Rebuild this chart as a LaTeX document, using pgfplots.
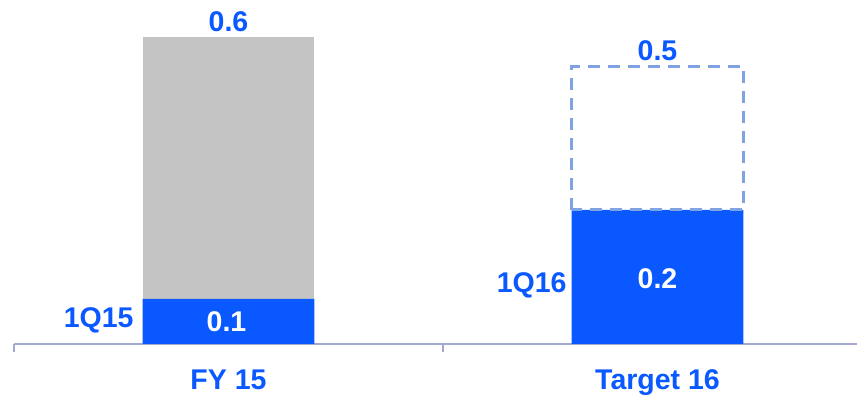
\documentclass[border=0pt]{standalone}
\usepackage{pgfplots}
\pgfplotsset{compat=1.18}
\usepackage{fontspec}
\setmainfont{Liberation Sans}
\definecolor{cblue}{HTML}{0A58FF}
\definecolor{cgray}{HTML}{C4C4C4}
\definecolor{cdash}{HTML}{7FA2E2}
\definecolor{caxis}{HTML}{A3A8CF}
\tikzset{lab/.style={font=\bfseries\fontsize{28.5}{34}\selectfont, text=cblue, inner sep=0pt}}
\begin{document}
\begin{tikzpicture}
\path[use as bounding box] (0,0) rectangle (857pt,396pt);
\begin{axis}[
  at={(14pt,52pt)}, anchor=south west,
  scale only axis, width=843pt, height=344pt,
  xmin=0, xmax=1.965, ymin=0, ymax=0.6723,
  axis y line=none, axis x line=bottom,
  x axis line style={-, draw=caxis, line width=1.5pt},
  xtick={0,1}, xticklabels={,},
  tick align=outside, major tick length=8pt,
  tick style={draw=caxis, line width=1.5pt},
  clip=false,
]
% FY 15 total (gray)
\addplot[ybar, bar width=0.4, bar shift=0pt, fill=cgray, draw=none] coordinates {(0.5,0.6)};
% 1Q actuals (blue)
\addplot[ybar, bar width=0.4, bar shift=0pt, fill=cblue, draw=none] coordinates {(0.5,0.088) (1.5,0.262)};
% Target 16 remaining (dashed outline)
\addplot[cdash, line width=3pt, dash pattern=on 12pt off 8pt, mark=none] coordinates {(1.3,0.262) (1.3,0.543) (1.7,0.543) (1.7,0.262) (1.3,0.262)};

\node[lab, anchor=base, yshift=5pt] at (axis cs:0.5,0.6) {0.6};
\node[lab, anchor=base, yshift=6pt] at (axis cs:1.5,0.543) {0.5};
\node[lab, anchor=base, text=white, xshift=-2pt] at (axis cs:0.5,0.0235) {0.1};
\node[lab, anchor=base, text=white] at (axis cs:1.5,0.1094) {0.2};
\node[lab, anchor=base east, xshift=-9pt] at (axis cs:0.3,0.0313) {1Q15};
\node[lab, anchor=base east, xshift=-5pt] at (axis cs:1.3,0.0997) {1Q16};
\node[lab, anchor=base, yshift=-46pt] at (axis cs:0.5,0) {FY 15};
\node[lab, anchor=base, yshift=-46pt] at (axis cs:1.5,0) {Target 16};
\end{axis}
\end{tikzpicture}
\end{document}
